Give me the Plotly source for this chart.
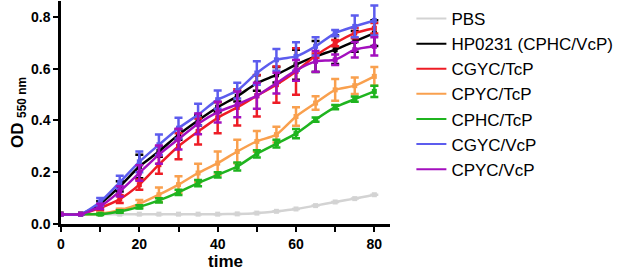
import plotly.graph_objects as go

time = [0, 5, 10, 15, 20, 25, 30, 35, 40, 45, 50, 55, 60, 65, 70, 75, 80]

names = ["PBS", "HP0231 (CPHC/VcP)", "CGYC/TcP", "CPYC/TcP", "CPHC/TcP", "CGYC/VcP", "CPYC/VcP"]
colors = ["#D3D3D3", "#000000", "#EE1C25", "#F9A04E", "#1FB41F", "#5C5CEE", "#A30FBE"]

pbs = [0.038, 0.038, 0.038, 0.038, 0.038, 0.038, 0.038, 0.038, 0.038, 0.039, 0.042, 0.049, 0.058, 0.071, 0.085, 0.098, 0.113]
pbs_err = [0.0] * 17

hp0231 = [0.038, 0.038, 0.078, 0.145, 0.222, 0.28, 0.345, 0.40, 0.451, 0.493, 0.544, 0.576, 0.615, 0.647, 0.673, 0.705, 0.737]
hp0231_err = [0.0, 0.0, 0.01, 0.02, 0.045, 0.02, 0.02, 0.02, 0.02, 0.02, 0.03, 0.03, 0.058, 0.06, 0.055, 0.04, 0.05]

cgyc_tcp = [0.038, 0.038, 0.062, 0.096, 0.152, 0.229, 0.30, 0.357, 0.41, 0.45, 0.495, 0.538, 0.589, 0.65, 0.698, 0.737, 0.756]
cgyc_tcp_err = [0.0, 0.0, 0.01, 0.015, 0.02, 0.035, 0.05, 0.05, 0.06, 0.07, 0.08, 0.07, 0.09, 0.008, 0.012, 0.02, 0.02]

cpyc_tcp = [0.038, 0.038, 0.04, 0.053, 0.078, 0.113, 0.152, 0.197, 0.235, 0.28, 0.319, 0.345, 0.415, 0.467, 0.518, 0.534, 0.57]
cpyc_tcp_err = [0.0, 0.0, 0.003, 0.006, 0.015, 0.028, 0.032, 0.036, 0.045, 0.045, 0.04, 0.03, 0.036, 0.026, 0.042, 0.032, 0.036]

cphc_tcp = [0.038, 0.038, 0.038, 0.048, 0.066, 0.091, 0.122, 0.158, 0.19, 0.222, 0.271, 0.31, 0.349, 0.403, 0.451, 0.482, 0.512]
cphc_tcp_err = [0.0, 0.0, 0.003, 0.005, 0.006, 0.008, 0.01, 0.012, 0.01, 0.015, 0.014, 0.015, 0.018, 0.008, 0.008, 0.01, 0.022]

cgyc_vcp = [0.038, 0.038, 0.085, 0.161, 0.24, 0.306, 0.37, 0.422, 0.48, 0.515, 0.583, 0.634, 0.647, 0.686, 0.737, 0.763, 0.786]
cgyc_vcp_err = [0.0, 0.0, 0.015, 0.025, 0.04, 0.04, 0.04, 0.042, 0.035, 0.03, 0.045, 0.042, 0.055, 0.035, 0.012, 0.042, 0.058]

cpyc_vcp = [0.038, 0.038, 0.068, 0.126, 0.197, 0.268, 0.328, 0.387, 0.432, 0.462, 0.495, 0.544, 0.593, 0.628, 0.634, 0.673, 0.686]
cpyc_vcp_err = [0.0, 0.0, 0.01, 0.02, 0.03, 0.035, 0.04, 0.04, 0.04, 0.05, 0.05, 0.04, 0.04, 0.04, 0.02, 0.03, 0.035]

series = [pbs, hp0231, cgyc_tcp, cpyc_tcp, cphc_tcp, cgyc_vcp, cpyc_vcp]
errors = [pbs_err, hp0231_err, cgyc_tcp_err, cpyc_tcp_err, cphc_tcp_err, cgyc_vcp_err, cpyc_vcp_err]

FONT = "Arial, Liberation Sans, sans-serif"

fig = go.Figure()
for name, col, ys, es in zip(names, colors, series, errors):
    fig.add_trace(go.Scatter(
        x=time, y=ys, mode="lines+markers", name=name, showlegend=False,
        line=dict(color=col, width=2.5, shape="spline", smoothing=0.6),
        marker=dict(symbol="square", size=5, color=col),
        error_y=dict(type="data", array=es, visible=True, color=col, thickness=2.5, width=4),
        cliponaxis=False,
    ))
for i, (name, col) in enumerate(zip(names, colors)):
    fig.add_trace(go.Scatter(
        x=[None], y=[None], mode="lines", name=name, legendgroup=str(i),
        line=dict(color=col, width=2),
    ))

fig.update_layout(
    width=630, height=276,
    margin=dict(l=61, r=240, t=1, b=52, autoexpand=False),
    paper_bgcolor="white", plot_bgcolor="white",
    font=dict(family=FONT, color="black"),
    showlegend=True,
    legend=dict(x=1.065, y=1.0, xanchor="left", yanchor="top",
                font=dict(family=FONT, size=17, color="black"),
                tracegroupgap=0, itemwidth=30, bgcolor="rgba(0,0,0,0)"),
    xaxis=dict(range=[0, 84], tickvals=[0, 20, 40, 60, 80], automargin=False,
               showgrid=False, zeroline=False, showline=True, linecolor="black", linewidth=2.5,
               ticks="outside", ticklen=5, tickwidth=2, tickcolor="black",
               minor=dict(tickvals=[10, 30, 50, 70], ticks="outside", ticklen=5, tickwidth=2, tickcolor="black"),
               tickfont=dict(family=FONT, size=14, color="black", weight="bold"),
               title=dict(text="<b>time</b>", font=dict(family=FONT, size=17, color="black"), standoff=2)),
    yaxis=dict(range=[0, 0.861], tickvals=[0, 0.2, 0.4, 0.6, 0.8], tickformat=".1f", automargin=False,
               showgrid=False, zeroline=False, showline=True, linecolor="black", linewidth=2.5,
               ticks="outside", ticklen=5, tickwidth=2, tickcolor="black",
               tickfont=dict(family=FONT, size=14, color="black", weight="bold"),
               title=dict(text="<b>OD <sub>550 nm</sub></b>", font=dict(family=FONT, size=17, color="black"), standoff=4)),
)

fig.write_html("out.html", config={"displayModeBar": False},
               post_script="document.body.style.margin='0';")
